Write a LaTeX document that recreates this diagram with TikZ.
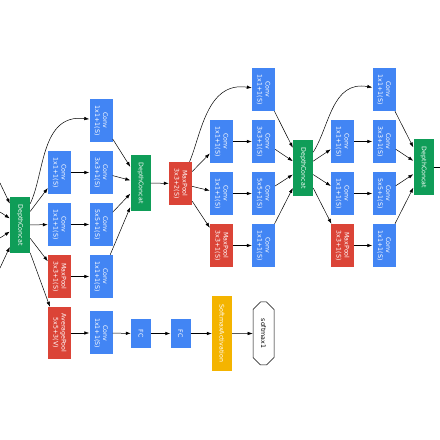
\documentclass[tikz,border=0pt]{standalone}
\usepackage{fontspec}
\setmainfont{DejaVu Sans}
\usepackage{xcolor}
\usepackage{tikz}
\usetikzlibrary{arrows.meta,shapes.misc}
\definecolor{color_conv}{rgb}{0.259,0.522,0.957}
\definecolor{color_pool}{rgb}{0.859,0.267,0.216}
\definecolor{color_concat}{rgb}{0.059,0.616,0.345}
\definecolor{color_soft}{rgb}{0.957,0.706,0}

\begin{document}
\begin{tikzpicture}[x=1pt,y=1pt,
		boite/.style={rectangle, rotate=-90, inner sep=0pt, align=center, text=white,
			font=\fontsize{6.3}{8}\selectfont, minimum width=43pt, minimum height=23pt},
		conv/.style={boite, fill=color_conv},
		pool/.style={boite, fill=color_pool},
		concat/.style={boite, fill=color_concat, minimum width=56pt, minimum height=20pt},
		fc/.style={conv, minimum width=29pt, minimum height=20pt},
		sortie/.style={chamfered rectangle, chamfered rectangle xsep=10pt, chamfered rectangle ysep=5pt,
			rotate=-90, inner sep=0pt, draw=black, line width=0.5pt, fill=white,
			font=\fontsize{6.3}{8}\selectfont, minimum width=63pt, minimum height=21pt},
		fleche/.style={-{Latex[length=5pt,width=3.5pt]}, line width=0.5pt}]
			\useasboundingbox (0,0) rectangle (440,440);
			
			% Entrée
			\node[concat] (dc0) at (20,215) {DepthConcat};
			\coordinate (in0) at (0,257);
			\coordinate (in1) at (0,228);
			\coordinate (in2) at (0,202);
			\coordinate (in3) at (0,172);
			
			% Premier module
			\node[conv] (c1a) at (59.5,267.5) {Conv\\1x1+1(S)};
			\node[conv] (c1b) at (59.5,215.5) {Conv\\1x1+1(S)};
			\node[pool] (p1c) at (59.5,163.5) {MaxPool\\3x3+1(S)};
			\node[pool, minimum width=52pt] (avg) at (59.5,107) {AveragePool\\5x5+3(V)};
			\node[conv] (c2a) at (101,319.5) {Conv\\1x1+1(S)};
			\node[conv] (c2b) at (101,267.5) {Conv\\3x3+1(S)};
			\node[conv] (c2c) at (101,215.5) {Conv\\5x5+1(S)};
			\node[conv] (c2d) at (101,163.5) {Conv\\1x1+1(S)};
			\node[conv] (c2e) at (101,107) {Conv\\1x1+1(S)};
			\node[concat] (dc1) at (140.5,257) {DepthConcat};
			
			% Sortie auxiliaire
			\node[fc] (fc1) at (141,106.5) {FC};
			\node[fc] (fc2) at (180.5,106.5) {FC};
			\node[boite, fill=color_soft, minimum width=75pt, minimum height=20pt] (act) at (222,106.5) {SoftmaxActivation};
			\node[sortie] (sm1) at (263.5,106.5) {softmax1};
			
			% Deuxième module
			\node[pool] (p2) at (180.5,256.5) {MaxPool\\3x3+2(S)};
			\node[conv] (c4a) at (221.5,298.5) {Conv\\1x1+1(S)};
			\node[conv] (c4b) at (221.5,246.5) {Conv\\1x1+1(S)};
			\node[pool] (p4c) at (221.5,194.5) {MaxPool\\3x3+1(S)};
			\node[conv] (c5a) at (263.5,350.5) {Conv\\1x1+1(S)};
			\node[conv] (c5b) at (263.5,298.5) {Conv\\3x3+1(S)};
			\node[conv] (c5c) at (263.5,246.5) {Conv\\5x5+1(S)};
			\node[conv] (c5d) at (263.5,194.5) {Conv\\1x1+1(S)};
			\node[concat] (dc2) at (303,272) {DepthConcat};
			
			% Troisième module
			\node[conv] (c7a) at (342.5,298.5) {Conv\\1x1+1(S)};
			\node[conv] (c7b) at (342.5,246.5) {Conv\\1x1+1(S)};
			\node[pool] (p7c) at (342.5,194.5) {MaxPool\\3x3+1(S)};
			\node[conv] (c8a) at (384,350.5) {Conv\\1x1+1(S)};
			\node[conv] (c8b) at (384,298.5) {Conv\\3x3+1(S)};
			\node[conv] (c8c) at (384,246.5) {Conv\\5x5+1(S)};
			\node[conv] (c8d) at (384,194.5) {Conv\\1x1+1(S)};
			\node[concat] (dc3) at (423.5,272.5) {DepthConcat};
			\coordinate (out) at (440,272.5);
			
			% Flèches
			\draw[fleche] (in0) -- (dc0);
			\draw[fleche] (in1) -- (dc0);
			\draw[fleche] (in2) -- (dc0);
			\draw[fleche] (in3) -- (dc0);
			\draw[fleche] (dc0) to[out=75,in=195] (c2a);
			\draw[fleche] (dc0) -- (c1a);
			\draw[fleche] (dc0) -- (c1b);
			\draw[fleche] (dc0) -- (p1c);
			\draw[fleche] (dc0) -- (avg);
			\draw[fleche] (c1a) -- (c2b);
			\draw[fleche] (c1b) -- (c2c);
			\draw[fleche] (p1c) -- (c2d);
			\draw[fleche] (c2a) -- (dc1);
			\draw[fleche] (c2b) -- (dc1);
			\draw[fleche] (c2c) -- (dc1);
			\draw[fleche] (c2d) -- (dc1);
			\draw[fleche] (avg) -- (c2e);
			\draw[fleche] (c2e) -- (fc1);
			\draw[fleche] (fc1) -- (fc2);
			\draw[fleche] (fc2) -- (act);
			\draw[fleche] (act) -- (sm1);
			\draw[fleche] (dc1) -- (p2);
			\draw[fleche] (p2) to[out=80,in=195] (c5a);
			\draw[fleche] (p2) -- (c4a);
			\draw[fleche] (p2) -- (c4b);
			\draw[fleche] (p2) -- (p4c);
			\draw[fleche] (c4a) -- (c5b);
			\draw[fleche] (c4b) -- (c5c);
			\draw[fleche] (p4c) -- (c5d);
			\draw[fleche] (c5a) -- (dc2);
			\draw[fleche] (c5b) -- (dc2);
			\draw[fleche] (c5c) -- (dc2);
			\draw[fleche] (c5d) -- (dc2);
			\draw[fleche] (dc2) to[out=70,in=195] (c8a);
			\draw[fleche] (dc2) -- (c7a);
			\draw[fleche] (dc2) -- (c7b);
			\draw[fleche] (dc2) -- (p7c);
			\draw[fleche] (c7a) -- (c8b);
			\draw[fleche] (c7b) -- (c8c);
			\draw[fleche] (p7c) -- (c8d);
			\draw[fleche] (c8a) -- (dc3);
			\draw[fleche] (c8b) -- (dc3);
			\draw[fleche] (c8c) -- (dc3);
			\draw[fleche] (c8d) -- (dc3);
			\draw[line width=0.5pt] (dc3) -- (out);
		\end{tikzpicture}
\end{document}
